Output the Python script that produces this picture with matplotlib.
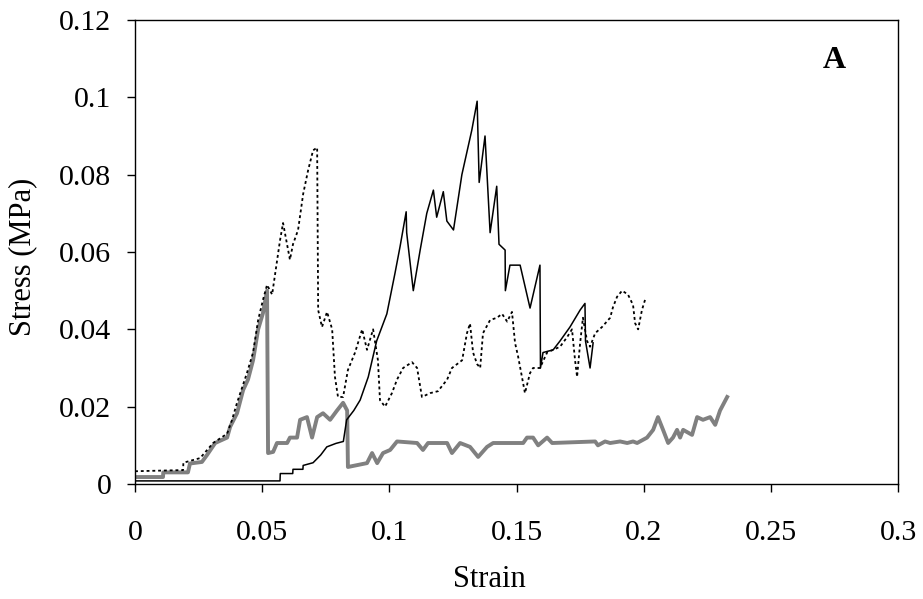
import matplotlib
matplotlib.use("Agg")
import matplotlib.pyplot as plt

plt.rcParams["font.family"] = ["Liberation Serif", "DejaVu Serif"]

# ==========================================
# DATA
# ==========================================

solid_strain = [0.0, 0.0570, 0.0571, 0.0620, 0.0621, 0.0660, 0.0661, 0.0700,
                0.0730, 0.0754, 0.0790, 0.0819, 0.0832, 0.0860, 0.0885,
                0.0917, 0.0950, 0.0990, 0.1022, 0.1042, 0.1066, 0.1068, 0.1094,
                0.1121, 0.1147, 0.1173, 0.1186, 0.1212, 0.1226, 0.1252, 0.1285,
                0.1324, 0.1345, 0.1353, 0.1376, 0.1396, 0.1422, 0.1431, 0.1455,
                0.1456, 0.1474, 0.1514, 0.1553, 0.1592, 0.1594, 0.1604, 0.1644,
                0.1671, 0.1710, 0.1750, 0.1769, 0.1771, 0.1789, 0.1801]
solid_stress = [0.0008, 0.0008, 0.0027, 0.0027, 0.0038, 0.0038, 0.0048, 0.0055,
                0.0075, 0.0096, 0.0105, 0.011, 0.0166, 0.019, 0.0217,
                0.0277, 0.037, 0.044, 0.0545, 0.0614, 0.0704, 0.065, 0.050,
                0.0605, 0.070, 0.076, 0.069, 0.0756, 0.068, 0.0657, 0.080,
                0.0915, 0.099, 0.078, 0.090, 0.065, 0.077, 0.062, 0.0605,
                0.050, 0.0566, 0.0566, 0.0455, 0.0566, 0.030, 0.034, 0.0347,
                0.037, 0.0406, 0.045, 0.0467, 0.037, 0.030, 0.0365]

dotted_strain = [0.0, 0.0189, 0.0190, 0.0256, 0.0307, 0.0362, 0.0381, 0.0401,
                 0.0440, 0.0464, 0.0484, 0.0503, 0.0519, 0.0539, 0.0570, 0.0582,
                 0.0609, 0.0621, 0.0641, 0.0661, 0.0680, 0.0700, 0.0716, 0.0720,
                 0.0735, 0.0755, 0.0775, 0.0786, 0.0798, 0.0818, 0.0837, 0.0865,
                 0.0893, 0.0912, 0.0936, 0.0955, 0.0963, 0.0983, 0.1010, 0.1030,
                 0.1054, 0.1089, 0.1109, 0.1128, 0.1160, 0.1191, 0.1227, 0.1246,
                 0.1286, 0.1305, 0.1317, 0.1329, 0.1345, 0.1357, 0.1368, 0.1396,
                 0.1423, 0.1443, 0.1463, 0.1482, 0.1494, 0.1506, 0.1526, 0.1533,
                 0.1553, 0.1565, 0.1592, 0.1620, 0.1671, 0.1699, 0.1718, 0.1730,
                 0.1738, 0.1750, 0.1761, 0.1777, 0.1789, 0.1809, 0.1836, 0.1868,
                 0.1879, 0.1895, 0.1915, 0.1938, 0.1958, 0.1966, 0.1978, 0.1993,
                 0.2005]
dotted_stress = [0.0033, 0.0036, 0.0055, 0.0067, 0.0106, 0.013, 0.0165, 0.021,
                 0.0287, 0.034, 0.0424, 0.0476, 0.0515, 0.049, 0.063, 0.0675,
                 0.058, 0.062, 0.0657, 0.075, 0.081, 0.0863, 0.087, 0.045,
                 0.0406, 0.0445, 0.040, 0.0277, 0.0225, 0.0225, 0.0295, 0.034,
                 0.040, 0.0347, 0.040, 0.032, 0.0217, 0.020, 0.0235, 0.027,
                 0.030, 0.0315, 0.030, 0.0225, 0.0235, 0.024, 0.027, 0.030,
                 0.032, 0.039, 0.0415, 0.034, 0.031, 0.030, 0.039, 0.0424,
                 0.043, 0.044, 0.042, 0.0445, 0.0365, 0.033, 0.026, 0.0235,
                 0.0287, 0.030, 0.030, 0.034, 0.0355, 0.038, 0.040, 0.032,
                 0.0277, 0.0365, 0.043, 0.037, 0.0355, 0.039, 0.0406, 0.043,
                 0.0457, 0.0484, 0.050, 0.049, 0.0463, 0.0416, 0.040, 0.045,
                 0.0476]

grey_strain = [0.0, 0.0110, 0.0111, 0.0208, 0.0216, 0.0263, 0.0283, 0.0315,
               0.0362, 0.0374, 0.0401, 0.0425, 0.0444, 0.0464, 0.0484, 0.0503,
               0.0519, 0.0523, 0.0543, 0.0558, 0.0598, 0.0609, 0.0637, 0.0649,
               0.0676, 0.0696, 0.0716, 0.0739, 0.0767, 0.0794, 0.0818, 0.0834,
               0.0837, 0.0912, 0.0932, 0.0952, 0.0975, 0.1003, 0.1030, 0.1109,
               0.1132, 0.1152, 0.1227, 0.1246, 0.1278, 0.1317, 0.1349, 0.1384,
               0.1408, 0.1526, 0.1541, 0.1565, 0.1585, 0.1620, 0.1640, 0.1809,
               0.1820, 0.1848, 0.1868, 0.1907, 0.1935, 0.1958, 0.1974, 0.2013,
               0.2037, 0.2056, 0.2076, 0.2096, 0.2115, 0.2131, 0.2143, 0.2155,
               0.2190, 0.2210, 0.2233, 0.2261, 0.2281, 0.2300, 0.2328]
grey_stress = [0.0018, 0.0018, 0.003, 0.003, 0.0053, 0.0057, 0.0075, 0.0106,
               0.012, 0.0148, 0.0183, 0.0243, 0.027, 0.032, 0.040, 0.0442,
               0.050, 0.008, 0.0083, 0.0106, 0.0106, 0.012, 0.012, 0.0166,
               0.0173, 0.012, 0.0173, 0.0183, 0.0166, 0.019, 0.021, 0.019,
               0.0044, 0.0054, 0.008, 0.0054, 0.008, 0.0088, 0.011, 0.0106,
               0.0088, 0.0106, 0.0106, 0.008, 0.0106, 0.0096, 0.007, 0.0096,
               0.0106, 0.0106, 0.012, 0.012, 0.010, 0.012, 0.0106, 0.011,
               0.010, 0.011, 0.0106, 0.011, 0.0106, 0.011, 0.0106, 0.012,
               0.014, 0.0173, 0.014, 0.0106, 0.012, 0.014, 0.012, 0.014,
               0.0127, 0.0173, 0.0166, 0.0173, 0.0153, 0.019, 0.0225]

x_ticks = [0, 0.05, 0.1, 0.15, 0.2, 0.25, 0.3]
x_tick_labels = ["0", "0.05", "0.1", "0.15", "0.2", "0.25", "0.3"]
y_ticks = [0, 0.02, 0.04, 0.06, 0.08, 0.1, 0.12]
y_tick_labels = ["0", "0.02", "0.04", "0.06", "0.08", "0.1", "0.12"]


# ==========================================
# PLOT
# ==========================================

fig = plt.figure(figsize=(9.23, 5.99), dpi=100)
ax = fig.add_axes([0.1463, 0.192, 0.8267, 0.7746])

ax.plot(grey_strain, grey_stress, color="#808080", lw=2.8, zorder=1)
ax.plot(dotted_strain, dotted_stress, color="black", lw=1.3,
        linestyle=(0, (1.6, 1.6)), zorder=2)
ax.plot(solid_strain, solid_stress, color="black", lw=1.1, zorder=3)

ax.set_xlim(0, 0.3)
ax.set_ylim(0, 0.12)
ax.set_xticks(x_ticks)
ax.set_xticklabels(x_tick_labels)
ax.set_yticks(y_ticks)
ax.set_yticklabels(y_tick_labels)
ax.tick_params(direction="out", length=6, width=1, labelsize=21.5)
ax.tick_params(axis="x", pad=20)
ax.tick_params(axis="y", pad=11)

for side in ax.spines.values():
    side.set_linewidth(1.0)

ax.set_xlabel("Strain", fontsize=22)
ax.set_ylabel("Stress (MPa)", fontsize=22)
ax.xaxis.set_label_coords(0.465, -0.175)
ax.yaxis.set_label_coords(-0.128, 0.489)

ax.text(0.916, 0.912, "A", transform=ax.transAxes, fontsize=23,
        fontweight="bold", ha="center", va="center")

fig.savefig("out.png", dpi=100)
